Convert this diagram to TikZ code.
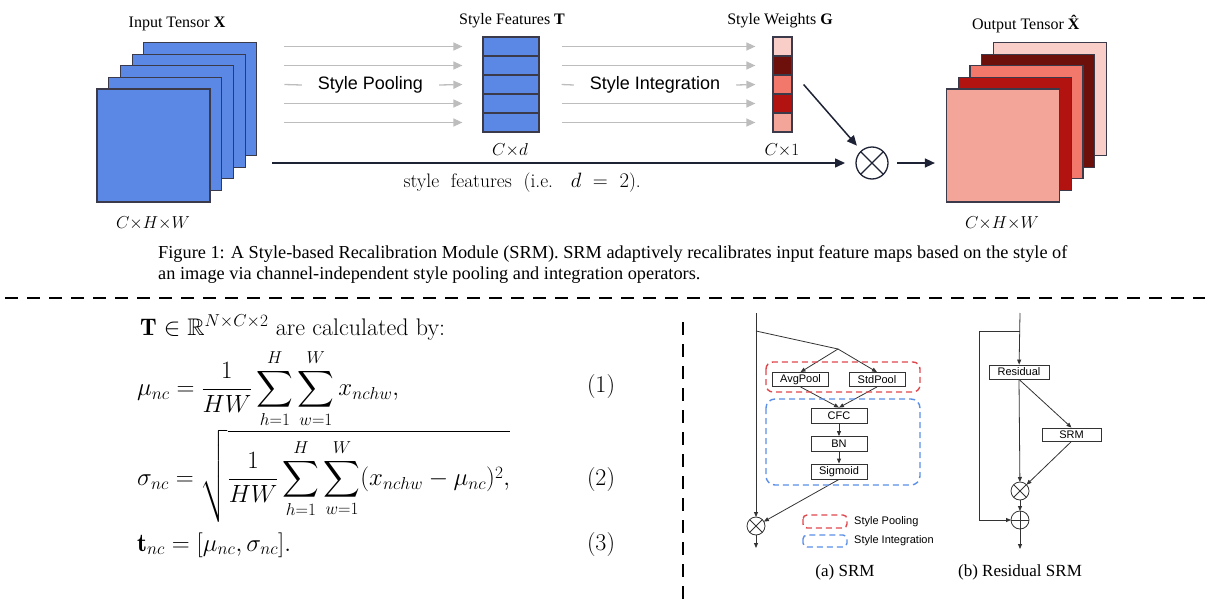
\documentclass[tikz,border=0pt]{standalone}
\usepackage{fontspec}
\usepackage{amsmath,amssymb}
\usetikzlibrary{arrows.meta,positioning}
\newfontfamily\timesfont{Liberation Serif}
\newfontfamily\arialfont{Liberation Sans}
\definecolor{inblue}{HTML}{5B87E5}
\definecolor{wa}{HTML}{F9CDC8}
\definecolor{wb}{HTML}{6D100B}
\definecolor{wc}{HTML}{F2786C}
\definecolor{wd}{HTML}{B31310}
\definecolor{we}{HTML}{F4A59A}
\definecolor{edgegray}{HTML}{3A3A4A}
\definecolor{flowgray}{HTML}{BDBDBD}
\definecolor{flowblack}{HTML}{1E2235}
\definecolor{boxgray}{HTML}{333333}
\definecolor{poolred}{HTML}{E0474C}
\definecolor{integblue}{HTML}{5B8FE8}

\begin{document}
\begin{tikzpicture}[x=1pt,y=-1pt,
    sheet/.style={draw=edgegray,line width=1.2pt,minimum size=113pt,inner sep=0pt},
    cell/.style={draw=edgegray,line width=1.2pt,minimum height=19pt,inner sep=0pt},
    toplabel/.style={font=\timesfont\fontsize{16}{19}\selectfont},
    dimlabel/.style={font=\fontsize{17}{20}\selectfont},
    flowlabel/.style={font=\arialfont\fontsize{18}{21}\selectfont,inner ysep=0pt},
    grayarrow/.style={draw=flowgray,line width=1.3pt,-{Triangle[length=9pt,width=8pt]}},
    grayline/.style={draw=flowgray,line width=1.3pt},
    blackarrow/.style={draw=flowblack,line width=1.5pt,-{Triangle[length=10pt,width=9pt]}},
    sepdash/.style={line width=2.5pt,dash pattern=on 13pt off 9pt},
    eqn/.style={font=\fontsize{25.5}{30}\selectfont,inner sep=0pt},
    op/.style={draw=boxgray,line width=0.8pt,font=\arialfont\fontsize{11}{13}\selectfont,
      inner sep=0pt,minimum width=56pt,minimum height=14pt},
    opcirc/.style={draw=boxgray,line width=0.8pt,circle,minimum size=18pt,inner sep=0pt,outer sep=0pt},
    thinline/.style={draw=boxgray,line width=0.8pt},
    thinarrow/.style={draw=boxgray,line width=0.8pt,-{Triangle[length=5pt,width=4pt]}},
    legendtext/.style={font=\arialfont\fontsize{11}{13}\selectfont,anchor=west,inner sep=0pt},
    subcap/.style={font=\timesfont\fontsize{17}{20}\selectfont}]
  \useasboundingbox (0,0) rectangle (1208,608);

  % input tensor
  \foreach \i in {4,...,0}
    \node[sheet,fill=inblue] (in\i) at ({153.5+11.7*\i},{145.5-11.6*\i}) {};
  \node[toplabel] (inlab) at (177,24) {Input Tensor \textbf{X}};
  \node[dimlabel] (indim) at (153,223) {$C{\times}H{\times}W$};

  % style features
  \foreach \i in {0,...,4}
    \node[cell,fill=inblue,minimum width=56pt] (t\i) at (511,{46.5+19*\i}) {};
  \node[toplabel] (tlab) at (512,21) {Style Features \textbf{T}};
  \node[dimlabel] (tdim) at (510,150) {$C{\times}d$};

  % style weights
  \foreach \i/\c in {0/wa,1/wb,2/wc,3/wd,4/we}
    \node[cell,fill=\c,minimum width=19pt] (g\i) at (782.5,{46.5+19*\i}) {};
  \node[toplabel] (glab) at (780,21) {Style Weights \textbf{G}};
  \node[dimlabel] (gdim) at (782,150) {$C{\times}1$};

  % output tensor
  \foreach \i/\c in {4/wa,3/wb,2/wc,1/wd,0/we}
    \node[sheet,fill=\c] (out\i) at ({1003+11.7*\i},{145.5-11.6*\i}) {};
  \node[toplabel] (outlab) at (1027,24) {Output Tensor \textbf{\^{X}}};
  \node[dimlabel] (outdim) at (1002,223) {$C{\times}H{\times}W$};

  % pooling and integration flows
  \foreach \i in {0,1,3,4} {
    \draw[grayarrow] ([xshift=-198pt]t\i.west) -- ([xshift=-20pt]t\i.west);
    \draw[grayarrow] ([xshift=22pt]t\i.east) -- ([xshift=-17pt]g\i.west);
  }
  \node[flowlabel,inner xsep=16pt] (pool) at (370.5,85) {Style Pooling};
  \draw[grayline] ([xshift=-198pt]t2.west) -- (pool.west);
  \draw[grayarrow] (pool.east) -- ([xshift=-20pt]t2.west);
  \node[flowlabel,inner xsep=16pt] (integ) at (655,85) {Style Integration};
  \draw[grayline] ([xshift=22pt]t2.east) -- (integ.west);
  \draw[grayarrow] (integ.east) -- ([xshift=-17pt]g2.west);

  % recalibration
  \node[draw=flowblack,line width=1.3pt,circle,minimum size=32pt,inner sep=0pt,outer sep=0pt] (mul) at (872,163) {};
  \draw[flowblack,line width=1.3pt] (mul.north west) -- (mul.south east) (mul.north east) -- (mul.south west);
  \coordinate (skip) at (272,163);
  \draw[blackarrow,shorten >=11pt] (skip) -- (mul);
  \draw[blackarrow,shorten >=7pt] ([xshift=11pt]g2.east) -- (mul);
  \draw[blackarrow,shorten <=9pt,shorten >=11pt] (mul.east) -- (mul.east -| out0.west);
  \node[anchor=west,font=\fontsize{19.5}{22}\selectfont] (skiplab) at (400,183)
    {style\ \ features\ \ (i.e.\ \ \ $d\ =\ 2$).};

  % caption
  \node[anchor=north west,align=left,inner sep=0pt,font=\timesfont\fontsize{18.3}{21}\selectfont] (caption) at (158,245)
    {Figure 1: A Style-based Recalibration Module (SRM). SRM adaptively recalibrates input feature maps based on the style of\\
     an image via channel-independent style pooling and integration operators.};

  \draw[sepdash] (5,298) -- (1205,298);
  \draw[sepdash] (683,322) -- (683,605);

  % equations
  \node[eqn,anchor=west,font=\fontsize{24}{29}\selectfont] (eqhead) at (140,328) {$\mathbf{T}\in\mathbb{R}^{N\times C\times 2}$ are calculated by:};
  \node[eqn,anchor=west] (eqmu) at (137,389)
    {$\displaystyle \mu_{nc}=\frac{1}{HW}\sum_{h=1}^{H}\sum_{w=1}^{W}x_{nchw},$};
  \node[eqn,anchor=west] (eqsigma) at (137,476)
    {$\displaystyle \sigma_{nc}=\sqrt{\frac{1}{HW}\sum_{h=1}^{H}\sum_{w=1}^{W}(x_{nchw}-\mu_{nc})^2,}$};
  \node[eqn,anchor=west] (eqt) at (137,545) {$\mathbf{t}_{nc}=[\mu_{nc},\sigma_{nc}].$};
  \node[eqn,font=\fontsize{24}{29}\selectfont] (num1) at (601,387) {(1)};
  \node[eqn,font=\fontsize{24}{29}\selectfont] (num2) at (601,480) {(2)};
  \node[eqn,font=\fontsize{24}{29}\selectfont] (num3) at (601,545) {(3)};

  % (a) SRM
  \coordinate (ain) at (756,313);
  \coordinate (abr) at (756,331);
  \coordinate (asplit) at (838,349);
  \coordinate (aout) at (756,548);
  \node[op] (avg) at (800.5,379.5) {AvgPool};
  \node[op] (std) at (877,379.5) {StdPool};
  \node[op,minimum height=15pt] (cfc) at (839,415.5) {CFC};
  \node[op,minimum height=15pt] (bn) at (839,444) {BN};
  \node[op,minimum height=15pt] (sig) at (839,471.5) {Sigmoid};
  \node[opcirc] (amul) at (756,526) {};
  \draw[thinline] (amul.north west) -- (amul.south east) (amul.north east) -- (amul.south west);
  \draw[thinarrow] (ain) -- (amul);
  \draw[thinarrow] (amul) -- (aout);
  \draw[thinline] (abr) -- (asplit);
  \draw[thinarrow] (asplit) -- (avg.north);
  \draw[thinarrow] (asplit) -- (std.north);
  \draw[thinarrow] (avg.south) -- (cfc.north);
  \draw[thinarrow] (std.south) -- (cfc.north);
  \draw[thinarrow] (cfc) -- (bn);
  \draw[thinarrow] (bn) -- (sig);
  \draw[thinarrow] (sig.south) -- (amul);
  \draw[poolred,line width=1.4pt,dash pattern=on 6pt off 4pt,rounded corners=7pt] (766,362) rectangle (920,392);
  \draw[integblue,line width=1.4pt,dash pattern=on 6pt off 4pt,rounded corners=9pt] (766,399) rectangle (920,485);
  \draw[poolred,line width=1.4pt,dash pattern=on 6pt off 4pt,rounded corners=4pt] (803,515) rectangle (847,528);
  \node[legendtext] (poollab) at (854,522) {Style Pooling};
  \draw[integblue,line width=1.4pt,dash pattern=on 6pt off 4pt,rounded corners=4pt] (803,535) rectangle (847,547);
  \node[legendtext] (integlab) at (854,541) {Style Integration};
  \node[subcap] (capa) at (845,572) {(a) SRM};

  % (b) Residual SRM
  \coordinate (bin) at (1020,313);
  \coordinate (bbr) at (1020,331);
  \coordinate (bleft) at (979,331);
  \coordinate (bout) at (1020,549);
  \node[op,minimum width=60pt] (res) at (1019,372) {Residual};
  \node[op,minimum width=59pt,minimum height=13pt] (srm) at (1071.5,434.5) {SRM};
  \node[opcirc] (bmul) at (1020,491) {};
  \draw[thinline] (bmul.north west) -- (bmul.south east) (bmul.north east) -- (bmul.south west);
  \node[opcirc] (badd) at (1020,520) {};
  \draw[thinline] (badd.north) -- (badd.south) (badd.west) -- (badd.east);
  \draw[thinarrow] (bin) -- (res);
  \draw[thinarrow] (bbr) -- (bleft) |- (badd);
  \draw[thinarrow] (res.south) -- (bmul);
  \draw[thinarrow] (res.south) -- (srm.north);
  \draw[thinarrow] (srm.south) -- (bmul);
  \draw[thinarrow] (bmul) -- (badd);
  \draw[thinarrow] (badd) -- (bout);
  \node[subcap] (capb) at (1020,572) {(b) Residual SRM};
\end{tikzpicture}
\end{document}
